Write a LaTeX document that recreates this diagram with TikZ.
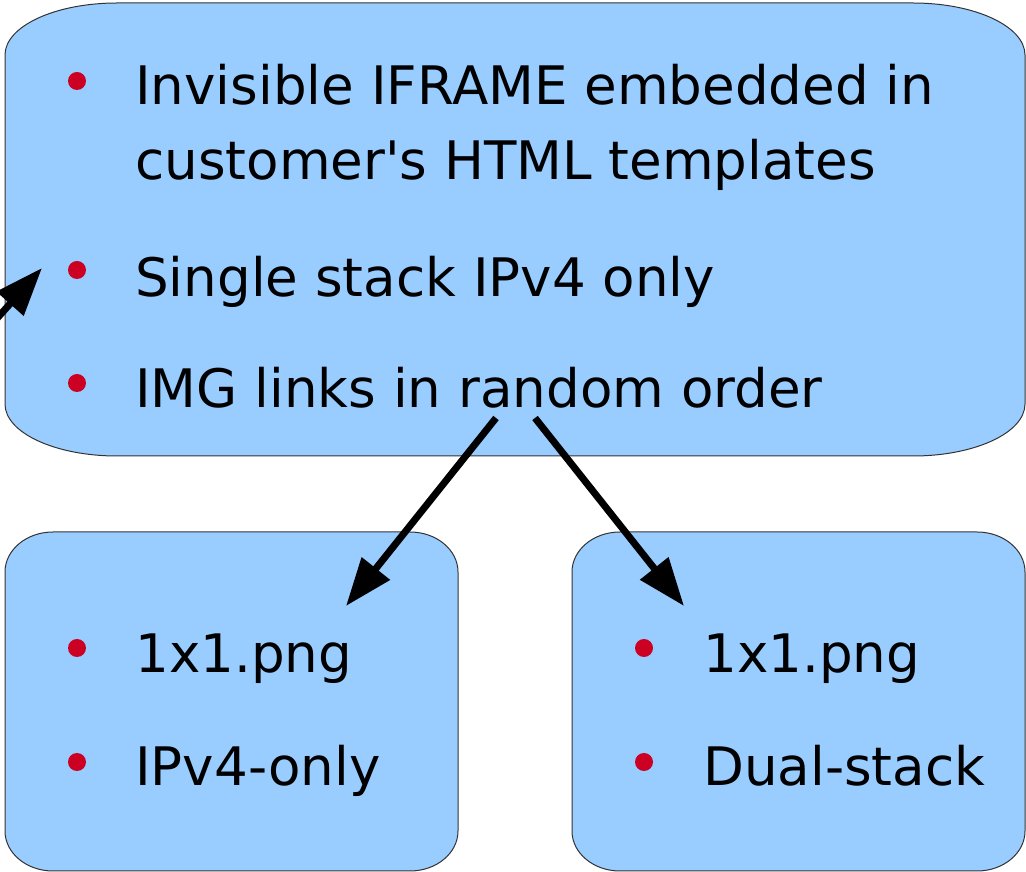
\documentclass[tikz,border=0pt]{standalone}
\usepackage{fontspec}
\setmainfont{DejaVu Sans}
\usetikzlibrary{positioning, arrows.meta}

\definecolor{boxblue}{RGB}{153,204,255}
\definecolor{bulletred}{RGB}{204,0,34}

% box with elliptical corners: x1, y1 (top left), x2, y2 (bottom right), rx, ry
\newcommand{\ovalbox}[6]{%
  \filldraw[boxline] (#1+#5,#2) -- (#3-#5,#2)
    arc[start angle=90, end angle=0, x radius=#5, y radius=#6] -- (#3,#4+#6)
    arc[start angle=0, end angle=-90, x radius=#5, y radius=#6] -- (#1+#5,#4)
    arc[start angle=270, end angle=180, x radius=#5, y radius=#6] -- (#1,#2-#6)
    arc[start angle=180, end angle=90, x radius=#5, y radius=#6] -- cycle;}

\begin{document}
\begin{tikzpicture}[x=0.75pt, y=0.75pt,
    boxline/.style={fill=boxblue, draw=black!80, line width=0.75pt},
    bullet/.style={circle, fill=bulletred, inner sep=0pt, minimum size=13.5pt},
    item/.style={anchor=base west, inner sep=0pt, align=left,
      font=\fontsize{39.8}{56.25}\selectfont},
    link/.style={line width=5.25pt, -{Triangle[length=36pt, width=26pt]}}]
    \useasboundingbox (0,0) rectangle (1026,872);

    % boxes
    \ovalbox{5}{869}{1025}{416}{112}{52}
    \ovalbox{5}{340}{458}{1}{48}{40}
    \ovalbox{572}{340}{1025}{1}{48}{40}

    % top box
    \node[bullet] (b1) at (77,791) {};
    \node[item] (iframe) at (135,692) {Invisible IFRAME embedded in\\customer\textquotesingle s HTML templates};
    \node[bullet] (b2) at (77,602) {};
    \node[item] (single) at (135,575) {Single stack IPv4 only};
    \node[bullet] (b3) at (77,489) {};
    \node[item] (imglinks) at (135,464) {IMG links in random order};

    % left box
    \node[bullet] (b4) at (77,224) {};
    \node[item] (png4) at (135,199) {1x1.png};
    \node[bullet] (b5) at (77,110) {};
    \node[item] (v4only) at (135,86) {IPv4-only};

    % right box
    \node[bullet] (b6) at (644,224) {};
    \node[item] (png6) at (703,199) {1x1.png};
    \node[bullet] (b7) at (644,110) {};
    \node[item] (dual) at (703,86) {Dual-stack};

    % arrows
    \coordinate (in) at (-8,548);
    \coordinate (intip) at (42,604);
    \coordinate (split1) at (496,454);
    \coordinate (split2) at (535,454);
    \coordinate (tip4) at (346,266);
    \coordinate (tip6) at (684,266);
    \draw[link] (in) -- (intip);
    \draw[link] (split1) -- (tip4);
    \draw[link] (split2) -- (tip6);
\end{tikzpicture}
\end{document}
